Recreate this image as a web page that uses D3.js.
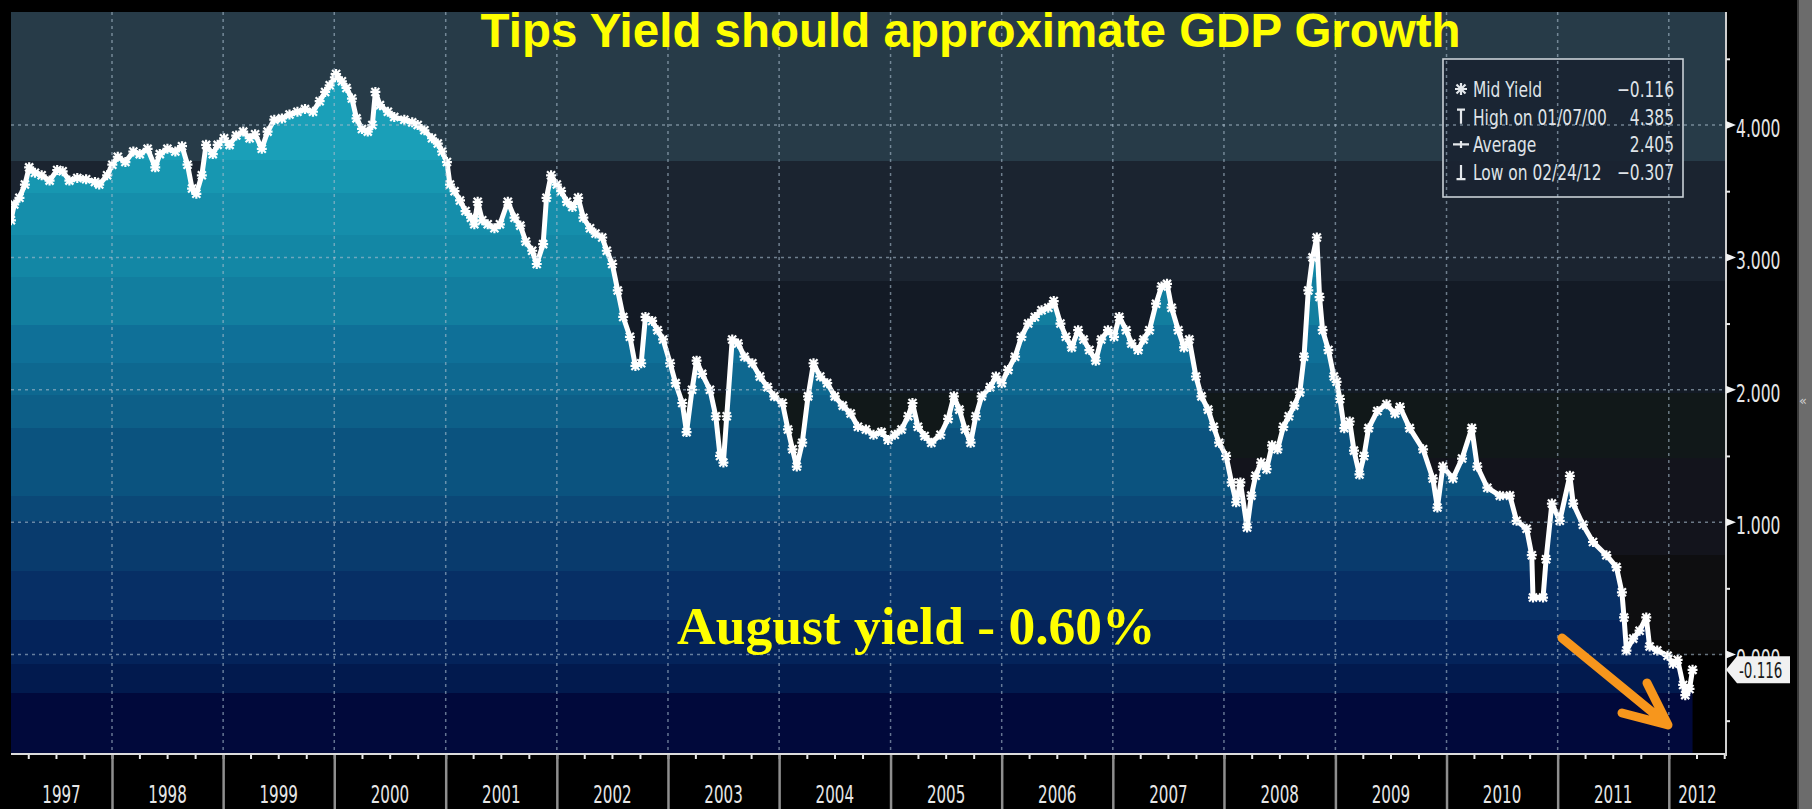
<!DOCTYPE html>
<html>
<head>
<meta charset="utf-8">
<script src="https://cdn.jsdelivr.net/npm/d3@7"></script>
<style>
  html, body { margin: 0; padding: 0; background: #000; overflow: hidden; }
  svg { display: block; }
</style>
</head>
<body>
<svg id="chart" width="1812" height="809"></svg>
<script>
// 10-year TIPS mid yield, %, sampled from Feb 1997 to Mar 2012
const yieldDates = [
  "1997-02-03","1997-02-14","1997-03-03","1997-03-21","1997-04-04","1997-04-23","1997-05-15","1997-06-10","1997-07-05","1997-07-23","1997-08-14","1997-09-09","1997-10-08","1997-11-06","1997-11-20","1997-12-16",
  "1998-01-02","1998-01-20","1998-02-14","1998-03-12","1998-04-02","1998-04-28","1998-05-23","1998-06-07","1998-07-02","1998-07-28","1998-08-19","1998-09-06","1998-09-21","1998-10-05","1998-10-23","1998-11-06","1998-11-28","1998-12-14",
  "1999-01-04","1999-01-22","1999-02-13","1999-03-08","1999-03-29","1999-04-16","1999-05-08","1999-05-27","1999-06-18","1999-07-13","1999-08-07","1999-09-02","1999-09-27","1999-10-23","1999-11-14","1999-12-02","1999-12-17",
  "2000-01-03","2000-01-07","2000-01-26","2000-02-10","2000-02-28","2000-03-14","2000-04-01","2000-04-20","2000-05-05","2000-05-15","2000-05-30","2000-06-25","2000-07-16","2000-08-18","2000-09-13","2000-10-01","2000-10-23","2000-11-17","2000-12-06","2000-12-20",
  "2001-01-05","2001-01-15","2001-01-30","2001-02-17","2001-03-07","2001-03-25","2001-04-05","2001-04-16","2001-05-01","2001-05-19","2001-06-10","2001-06-28","2001-07-24","2001-08-15","2001-09-03","2001-09-21","2001-10-12","2001-10-27","2001-11-17","2001-11-28","2001-12-13",
  "2002-01-01","2002-01-15","2002-02-03","2002-02-21","2002-03-12","2002-03-29","2002-04-20","2002-05-08","2002-05-30","2002-06-14","2002-07-02","2002-07-20","2002-08-07","2002-08-29","2002-09-16","2002-10-05","2002-10-19","2002-11-10","2002-11-28","2002-12-16",
  "2003-01-08","2003-01-26","2003-02-17","2003-03-03","2003-03-21","2003-04-05","2003-04-23","2003-05-19","2003-06-07","2003-06-21","2003-07-02","2003-07-13","2003-07-31","2003-08-19","2003-09-09","2003-10-05","2003-10-30","2003-11-24","2003-12-16",
  "2004-01-12","2004-01-30","2004-02-14","2004-02-28","2004-03-17","2004-04-05","2004-04-23","2004-05-15","2004-06-07","2004-07-02","2004-07-28","2004-08-23","2004-09-16","2004-10-12","2004-11-06","2004-12-02","2004-12-24",
  "2005-01-15","2005-02-06","2005-02-28","2005-03-14","2005-04-01","2005-04-23","2005-05-15","2005-06-14","2005-07-09","2005-07-28","2005-08-15","2005-09-03","2005-09-21","2005-10-08","2005-10-27","2005-11-24","2005-12-13",
  "2006-01-01","2006-01-22","2006-02-14","2006-03-07","2006-03-29","2006-04-20","2006-05-12","2006-06-03","2006-06-21","2006-07-13","2006-07-31","2006-08-19","2006-09-09","2006-09-27","2006-10-16","2006-11-06","2006-11-24","2006-12-16",
  "2007-01-05","2007-01-22","2007-02-14","2007-03-03","2007-03-25","2007-04-12","2007-05-01","2007-05-23","2007-06-10","2007-06-28","2007-07-13","2007-08-04","2007-08-23","2007-09-09","2007-10-01","2007-10-19","2007-11-10","2007-11-28","2007-12-16",
  "2008-01-08","2008-01-26","2008-02-10","2008-02-24","2008-03-17","2008-03-31","2008-04-14","2008-05-02","2008-05-20","2008-06-07","2008-06-25","2008-07-14","2008-08-01","2008-08-19","2008-09-06","2008-09-20","2008-10-04","2008-10-18","2008-11-01","2008-11-10","2008-11-20","2008-12-09","2008-12-27",
  "2009-01-05","2009-01-16","2009-01-30","2009-02-17","2009-03-03","2009-03-21","2009-04-05","2009-04-20","2009-05-19","2009-06-18","2009-07-16","2009-08-01","2009-09-02","2009-10-16","2009-11-17","2009-12-02","2009-12-20",
  "2010-01-22","2010-02-21","2010-03-25","2010-04-12","2010-05-15","2010-06-25","2010-07-28","2010-08-19","2010-09-21","2010-10-08","2010-10-12","2010-11-14","2010-11-24","2010-12-13",
  "2011-01-08","2011-02-10","2011-02-21","2011-03-25","2011-04-27","2011-06-10","2011-07-13","2011-07-31","2011-08-07","2011-08-15","2011-09-06","2011-09-27","2011-10-19","2011-10-30","2011-11-24","2011-12-28",
  "2012-01-15","2012-01-30","2012-02-17","2012-02-24","2012-03-09","2012-03-19"
];
const yieldValues = [
  3.28,3.40,3.45,3.55,3.68,3.64,3.62,3.58,3.66,3.65,3.58,3.60,3.59,3.57,3.55,3.62,
  3.70,3.76,3.72,3.80,3.78,3.82,3.68,3.78,3.82,3.80,3.84,3.70,3.52,3.48,3.62,3.85,3.78,3.85,
  3.90,3.85,3.92,3.95,3.90,3.93,3.82,3.95,4.04,4.05,4.08,4.10,4.12,4.10,4.18,4.25,4.30,
  4.36,4.385,4.33,4.28,4.20,4.05,3.97,3.95,4.00,4.25,4.15,4.10,4.06,4.04,4.02,4.00,3.96,3.90,3.86,3.80,
  3.72,3.55,3.50,3.43,3.35,3.30,3.25,3.42,3.28,3.25,3.22,3.25,3.42,3.30,3.24,3.12,3.05,2.95,3.10,3.45,3.62,
  3.55,3.50,3.42,3.38,3.45,3.30,3.22,3.18,3.15,3.05,2.95,2.75,2.55,2.40,2.18,2.20,2.55,2.52,2.45,2.38,
  2.20,2.05,1.90,1.68,2.00,2.22,2.12,2.00,1.80,1.50,1.45,1.80,2.38,2.35,2.25,2.20,2.10,2.02,1.95,
  1.90,1.70,1.55,1.42,1.60,1.95,2.20,2.10,2.05,1.95,1.88,1.82,1.72,1.70,1.66,1.68,1.62,
  1.66,1.70,1.80,1.90,1.72,1.65,1.60,1.66,1.78,1.95,1.85,1.70,1.60,1.80,1.95,2.02,2.10,
  2.05,2.15,2.25,2.40,2.50,2.55,2.60,2.62,2.67,2.50,2.40,2.32,2.45,2.38,2.30,2.22,2.38,2.45,
  2.40,2.55,2.45,2.35,2.30,2.38,2.45,2.65,2.78,2.80,2.62,2.45,2.32,2.38,2.10,1.95,1.85,1.72,1.60,
  1.50,1.30,1.15,1.30,0.96,1.20,1.35,1.45,1.40,1.58,1.55,1.72,1.80,1.88,1.98,2.25,2.75,3.00,3.15,2.70,2.45,2.30,2.10,
  2.06,1.93,1.71,1.76,1.54,1.36,1.50,1.71,1.84,1.89,1.82,1.87,1.71,1.55,1.33,1.11,1.42,
  1.33,1.48,1.71,1.42,1.26,1.20,1.20,1.01,0.95,0.75,0.43,0.43,0.72,1.14,
  1.01,1.35,1.14,0.98,0.85,0.75,0.66,0.47,0.28,0.03,0.12,0.18,0.28,0.06,0.03,-0.01,
  -0.07,-0.04,-0.23,-0.307,-0.26,-0.116
];
const averageYield = 2.405;
const yTickValues = [0, 1, 2, 3, 4];
const yearLabels = ["1997","1998","1999","2000","2001","2002","2003","2004","2005","2006","2007","2008","2009","2010","2011","2012"];
const titleText = "Tips Yield should approximate GDP Growth";
const noteText = "August yield - 0.60%";

// ---- layout ----
const W = 1812, H = 809;
const P = { left: 11, top: 12, right: 1726, bottom: 754 };

// stepped background behind the series (y-bands, top to bottom)
const backBands = [
  [12, 161, "#273b48"], [161, 281, "#1b2430"], [281, 393, "#131a25"],
  [393, 458, "#111819"], [458, 555, "#13141c"], [555, 640, "#0e0e10"],
  [640, 655, "#090909"], [655, 754, "#000000"]
];
// stepped teal-to-navy fill under the series
const fillBands = [
  [12, 160, "#1a9fb8"], [160, 193, "#1797b1"], [193, 235, "#158eab"], [235, 277, "#1387a5"],
  [277, 325, "#127e9f"], [325, 363, "#0f7098"], [363, 395, "#0e6890"], [395, 428, "#0d5f88"],
  [428, 496, "#0b537f"], [496, 521, "#0b4877"], [521, 571, "#093b6d"], [571, 620, "#072f65"],
  [620, 664, "#04235a"], [664, 693, "#021a4e"], [693, 754, "#01093b"]
];

const parse = d3.utcParse("%Y-%m-%d");
const series = yieldDates.map((d, i) => ({ date: parse(d), value: yieldValues[i] }));

const x = d3.scaleUtc()
  .domain([new Date(Date.UTC(1998, 0, 1)), new Date(Date.UTC(2012, 0, 1))])
  .range([112, 1668.8]);
const y = d3.scaleLinear().domain([0, 4]).range([654.5, 125]);

const fmt3 = v => d3.format(".3f")(v).replace("\u2212", "-");

const svg = d3.select("#chart");
svg.append("rect").attr("width", W).attr("height", H).attr("fill", "#000");

const defs = svg.append("defs");
function steppedGradient(id, bands) {
  const g = defs.append("linearGradient").attr("id", id)
    .attr("gradientUnits", "userSpaceOnUse")
    .attr("x1", 0).attr("x2", 0).attr("y1", P.top).attr("y2", P.bottom);
  const span = P.bottom - P.top;
  bands.forEach(([a, b, c]) => {
    g.append("stop").attr("offset", (a - P.top) / span).attr("stop-color", c);
    g.append("stop").attr("offset", (b - P.top) / span).attr("stop-color", c);
  });
}
steppedGradient("backGrad", backBands);
steppedGradient("fillGrad", fillBands);
defs.append("clipPath").attr("id", "plotClip").append("rect")
  .attr("x", P.left).attr("y", P.top).attr("width", P.right - P.left).attr("height", P.bottom - P.top);

// condensed terminal-style font helper
const COND = "'DejaVu Sans Condensed','DejaVu Sans',sans-serif";
const probe = svg.append("text").attr("font-family", COND).attr("font-size", 100).text("0000");
const kCond = 229 / probe.node().getComputedTextLength();
probe.remove();
function condText(g, px, py, str, size, sx, anchor, fill) {
  return g.append("text")
    .attr("transform", `translate(${px},${py}) scale(${sx * kCond},1)`)
    .attr("font-family", COND).attr("font-size", size)
    .attr("text-anchor", anchor).attr("fill", fill).text(str);
}

// ---- plot background ----
const plot = svg.append("g").attr("clip-path", "url(#plotClip)");
plot.append("rect").attr("x", P.left).attr("y", P.top)
  .attr("width", P.right - P.left).attr("height", P.bottom - P.top)
  .attr("fill", "url(#backGrad)");

// ---- area under the yield ----
const area = d3.area().x(d => x(d.date)).y0(P.bottom).y1(d => y(d.value));
plot.append("path").datum(series).attr("d", area).attr("fill", "url(#fillGrad)");

// ---- legend box backdrop ----
const LB = { x: 1443, y: 59, w: 240, h: 138 };
svg.append("rect").attr("x", LB.x).attr("y", LB.y).attr("width", LB.w).attr("height", LB.h)
  .attr("fill", "#1a2431").attr("fill-opacity", 0.93);

// ---- dotted grid ----
const grid = svg.append("g").attr("clip-path", "url(#plotClip)")
  .attr("stroke", "#a9bdcd").attr("stroke-opacity", 0.6)
  .attr("stroke-width", 1.5).attr("stroke-dasharray", "3,4");
grid.selectAll("line.h").data(yTickValues).join("line")
  .attr("x1", P.left).attr("x2", P.right).attr("y1", d => y(d)).attr("y2", d => y(d));
const yearStarts = d3.utcYear.range(new Date(Date.UTC(1998, 0, 1)), new Date(Date.UTC(2012, 0, 2)));
grid.selectAll("line.v").data(yearStarts).join("line")
  .attr("x1", d => x(d)).attr("x2", d => x(d)).attr("y1", P.top).attr("y2", P.bottom);

// ---- yield line with star markers ----
const line = d3.line().x(d => x(d.date)).y(d => y(d.value));
plot.append("path").datum(series).attr("d", line)
  .attr("fill", "none").attr("stroke", "#ffffff").attr("stroke-width", 5)
  .attr("stroke-linejoin", "round");
plot.append("g").selectAll("path").data(series).join("path")
  .attr("transform", d => `translate(${x(d.date)},${y(d.value)})`)
  .attr("d", "M-5,0H5M0,-5V5M-4,-4L4,4M-4,4L4,-4")
  .attr("stroke", "#ffffff").attr("stroke-width", 2.2).attr("fill", "none");

// ---- bottom axis ----
const axisG = svg.append("g");
const minorAxis = d3.axisBottom(x)
  .tickValues(d3.utcMonth.every(3).range(new Date(Date.UTC(1997, 3, 1)), new Date(Date.UTC(2012, 6, 2))))
  .tickSize(5).tickFormat("");
axisG.append("g").attr("transform", `translate(0,${P.bottom})`).call(minorAxis)
  .call(g => g.select(".domain").remove())
  .call(g => g.selectAll(".tick line").attr("stroke", "#e8e8e8").attr("stroke-width", 2))
  .call(g => g.selectAll(".tick").filter(d => d < x.invert(P.left) || d > x.invert(P.right)).remove());
const majorAxis = d3.axisBottom(x).tickValues(yearStarts).tickSize(H - P.bottom).tickFormat("");
axisG.append("g").attr("transform", `translate(0,${P.bottom})`).call(majorAxis)
  .call(g => g.select(".domain").remove())
  .call(g => g.selectAll(".tick line").attr("stroke", "#8e8e8e").attr("stroke-width", 2.5));
axisG.append("line").attr("x1", P.left).attr("x2", P.right)
  .attr("y1", P.bottom).attr("y2", P.bottom).attr("stroke", "#dcdcdc").attr("stroke-width", 2);
// year labels centred in each year's span
yearLabels.forEach(lbl => {
  const yr = +lbl;
  const a = Math.max(x(new Date(Date.UTC(yr, 0, 1))), P.left);
  const b = Math.min(x(new Date(Date.UTC(yr + 1, 0, 1))), P.right);
  condText(axisG, (a + b) / 2, 803, lbl, 24, 0.7, "middle", "#e6e6e6");
});

// ---- right axis ----
const rAxis = svg.append("g");
rAxis.append("line").attr("x1", P.right).attr("x2", P.right).attr("y1", P.top).attr("y2", P.bottom + 2)
  .attr("stroke", "#cfcfcf").attr("stroke-width", 2);
const minorY = d3.axisRight(y).tickValues([-0.5, 0.5, 1.5, 2.5, 3.5, 4.5]).tickSize(4).tickFormat("");
rAxis.append("g").attr("transform", `translate(${P.right},0)`).call(minorY)
  .call(g => g.select(".domain").remove())
  .call(g => g.selectAll(".tick line").attr("stroke", "#e8e8e8").attr("stroke-width", 2));
yTickValues.forEach(v => {
  const py = y(v);
  rAxis.append("path")
    .attr("d", `M${P.right},${py - 4}L${P.right + 10},${py}L${P.right},${py + 4}Z`)
    .attr("fill", "#f2f2f2");
  condText(rAxis, P.right + 10, py + 12, fmt3(v), 24, 0.72, "start", "#e6e6e6");
});

// last value tag
const last = series[series.length - 1];
const ly = y(last.value);
rAxis.append("path")
  .attr("d", `M${P.right},${ly}L${P.right + 11},${ly - 13.5}H1790V${ly + 13.5}H${P.right + 11}Z`)
  .attr("fill", "#f1f1f1");
condText(rAxis, P.right + 13, ly + 8.5, fmt3(last.value), 22, 0.68, "start", "#1a1a1a");

// ---- legend ----
const hi = series.reduce((m, d) => d.value > m.value ? d : m, series[0]);
const lo = series.reduce((m, d) => d.value < m.value ? d : m, series[0]);
const fmtDate = d3.utcFormat("%m/%d/%y");
const legendRows = [
  { label: "Mid Yield", value: d3.format(".3f")(last.value) },
  { label: "High on " + fmtDate(hi.date), value: d3.format(".3f")(hi.value) },
  { label: "Average", value: d3.format(".3f")(averageYield) },
  { label: "Low on " + fmtDate(lo.date), value: d3.format(".3f")(lo.value) }
];
const leg = svg.append("g");
leg.append("rect").attr("x", LB.x).attr("y", LB.y).attr("width", LB.w).attr("height", LB.h)
  .attr("fill", "none").attr("stroke", "#c9d0d6").attr("stroke-width", 1.6);
const icons = [
  "M-6,0H6M0,-6V6M-4.5,-4.5L4.5,4.5M-4.5,4.5L4.5,-4.5",
  "M-4,-7H4M0,-7V7",
  "M-8,0H8M0,-3.5V3.5",
  "M0,-7V7M-4.5,7H4.5"
];
legendRows.forEach((r, i) => {
  const by = 97 + i * 27.7;
  leg.append("path").attr("d", icons[i]).attr("transform", `translate(1461,${by - 8})`)
    .attr("stroke", "#e4e8ec").attr("stroke-width", 2.2).attr("fill", "none");
  condText(leg, 1473, by, r.label, 22, 0.78, "start", "#dfe3e8");
  condText(leg, 1674, by, r.value, 22, 0.78, "end", "#dfe3e8");
});

// ---- right-hand panel strip ----
svg.append("rect").attr("x", 1797).attr("y", 0).attr("width", 15).attr("height", H).attr("fill", "#6c6c6c");
svg.append("rect").attr("x", 1797).attr("y", 0).attr("width", 2).attr("height", H).attr("fill", "#3a3a3a");
svg.append("text").attr("x", 1799).attr("y", 405).attr("font-family", "DejaVu Sans")
  .attr("font-size", 13).attr("fill", "#d0d0d0").text("«");

// ---- title and annotation ----
svg.append("text").attr("x", 970.6).attr("y", 46.7).attr("text-anchor", "middle")
  .attr("font-family", "'Liberation Sans', Arial, sans-serif").attr("font-weight", "bold")
  .attr("font-size", 47.5).attr("fill", "#ffff00").text(titleText);
svg.append("text").attr("x", 677).attr("y", 644)
  .attr("font-family", "'Liberation Serif', 'Times New Roman', serif").attr("font-weight", "bold")
  .attr("font-size", 53.5).attr("fill", "#ffff00").text(noteText);

// orange pointer toward the latest readings
svg.append("path")
  .attr("d", "M1562,638L1668,725M1647,683L1668,725L1622,713")
  .attr("fill", "none").attr("stroke", "#f7961c").attr("stroke-width", 9)
  .attr("stroke-linecap", "round").attr("stroke-linejoin", "round");
</script>
</body>
</html>
